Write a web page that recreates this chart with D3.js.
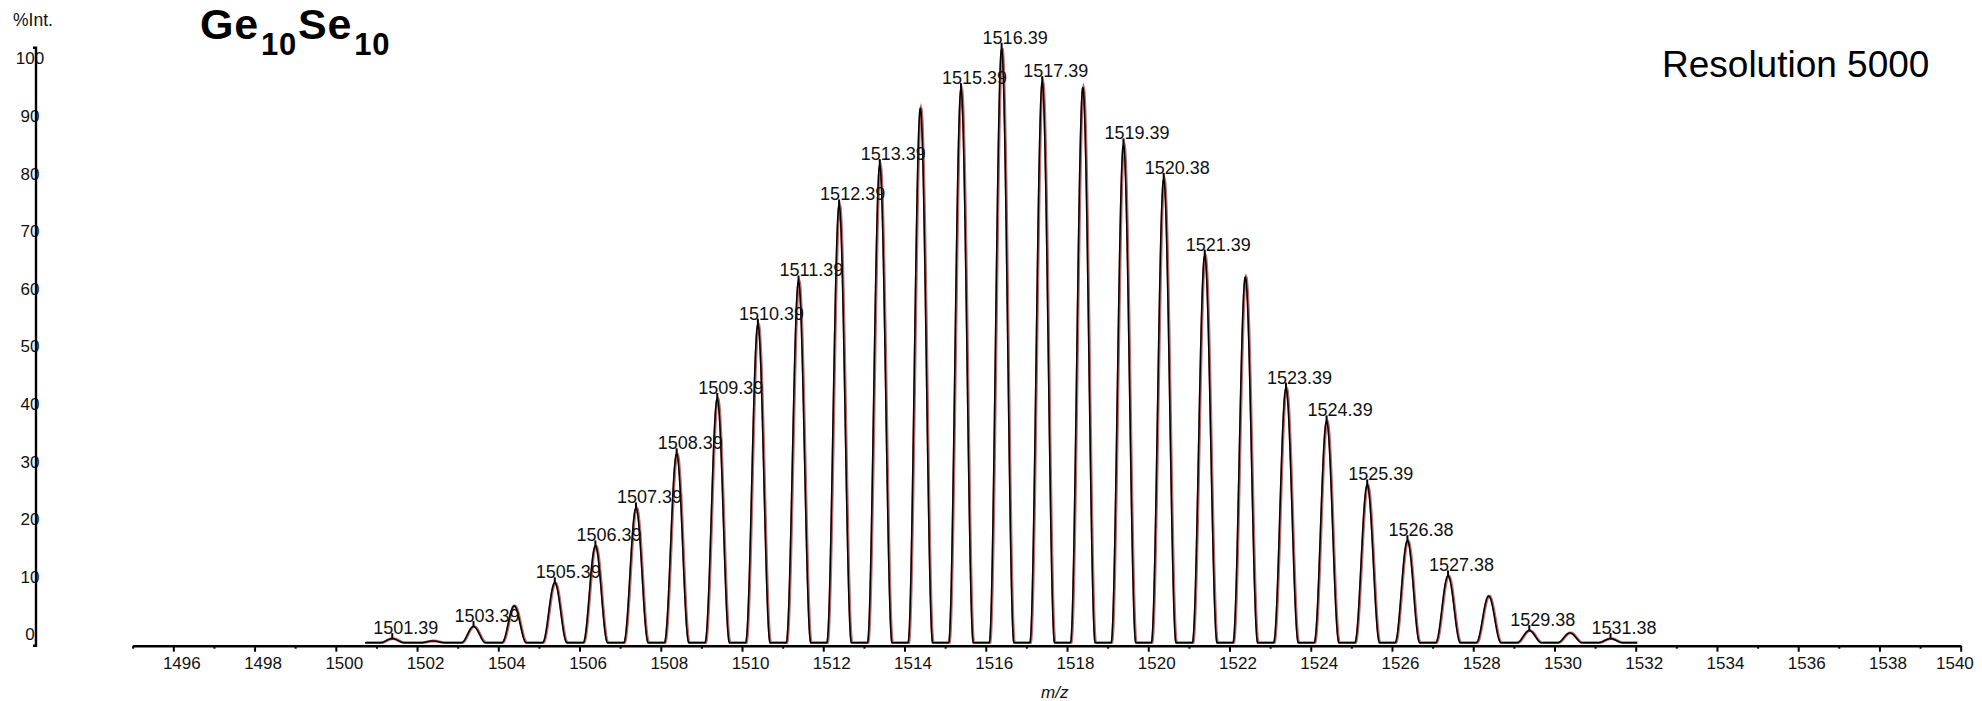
<!DOCTYPE html>
<html><head><meta charset="utf-8">
<script src="https://cdn.jsdelivr.net/npm/d3@7"></script>
<style>
html,body{margin:0;padding:0;background:#fff;}
svg{display:block;font-family:"Liberation Sans",Arial,Helvetica,sans-serif;}
</style></head><body>
<svg id="chart" width="1982" height="701"></svg>
<script>
// ---- data ----
const peakMz  = [1501.39,1502.39,1503.39,1504.39,1505.39,1506.39,1507.39,1508.39,1509.39,1510.39,
                 1511.39,1512.39,1513.39,1514.39,1515.39,1516.39,1517.39,1518.39,1519.39,1520.38,
                 1521.39,1522.39,1523.39,1524.39,1525.39,1526.38,1527.38,1528.38,1529.38,1530.38,1531.38];
const peakInt = [0.7,0.3,2.8,6.4,10.4,16.8,23.4,32.8,42.4,55.3,
                 62.8,76.0,83.0,92.8,96.2,103.2,97.4,96.4,86.6,80.6,
                 67.3,63.5,44.2,38.5,27.4,17.7,11.6,8.1,2.1,1.7,0.7];
const labeledMz = [1501.39,1503.39,1505.39,1506.39,1507.39,1508.39,1509.39,1510.39,1511.39,1512.39,
                   1513.39,1515.39,1516.39,1517.39,1519.39,1520.38,1521.39,1523.39,1524.39,1525.39,
                   1526.38,1527.38,1529.38,1531.38];
const xMajorTicks = [1496,1498,1500,1502,1504,1506,1508,1510,1512,1514,1516,1518,1520,1522,1524,1526,1528,1530,1532,1534,1536,1538,1540];
const xMinorTicks = [1495,1497,1499,1501,1503,1505,1507,1509,1511,1513,1515,1517,1519,1521,1523,1525,1527,1529,1531,1533,1535,1537,1539];
const yTicks = [0,10,20,30,40,50,60,70,80,90,100];
const xDomain = [1495,1540];
const yDomain = [0,100];
const spectrumRange = [1500.72,1532.03];
const resolution = 5000;
const titleMain = ["Ge","Se"];
const titleSub = ["10","10"];
const resolutionText = "Resolution 5000";

// ---- layout ----
const svg = d3.select("#chart");
const x = d3.scaleLinear().domain(xDomain).range([132.7,1960.7]);
const y = d3.scaleLinear().domain(yDomain).range([642.7,66.7]);
const xAxisY = 645.7, yAxisX = 36;

// peak profile (cos^2 line shape, width from resolution)
function profile(mz){
  let s = 0;
  peakMz.forEach((m,i)=>{
    const w = m/resolution, d = mz-m;
    if (Math.abs(d) < w){ const c = Math.cos(Math.PI*d/(2*w)); s += peakInt[i]*c*c; }
  });
  return s;
}
const samples = d3.range(spectrumRange[0], spectrumRange[1], 0.01)
  .concat(peakMz).concat([spectrumRange[1]]).sort((a,b)=>a-b);
const line = d3.line().x(d=>x(d)).y(d=>y(profile(d)));

svg.append("path").datum(samples).attr("d",line)
  .attr("fill","none").attr("stroke","#a33a3a").attr("stroke-width",2.8).attr("stroke-opacity",0.75)
  .attr("transform","translate(0.6,0)");
svg.append("path").datum(samples).attr("d",line)
  .attr("fill","none").attr("stroke","#000").attr("stroke-width",1.5).attr("stroke-linejoin","round");

// x axis
const gx = svg.append("g").attr("transform",`translate(0,${xAxisY})`)
  .call(d3.axisBottom(x).tickValues(xMajorTicks).tickSize(6).tickSizeOuter(0).tickFormat(d3.format("d")));
gx.select(".domain").attr("stroke","#000").attr("stroke-width",2.6);
gx.selectAll(".tick line").attr("stroke","#000").attr("stroke-width",2);
gx.selectAll(".tick text").attr("font-size",17).attr("font-family","Liberation Sans, Arial, sans-serif")
  .attr("fill","#111").attr("y",23.7).attr("dy",0).attr("dx",8);
gx.selectAll(".tick text").filter(d=>d===xDomain[1]).attr("text-anchor","end").attr("dx",12.6);
const gxm = svg.append("g").attr("transform",`translate(0,${xAxisY})`)
  .call(d3.axisBottom(x).tickValues(xMinorTicks).tickSize(3).tickSizeOuter(0).tickFormat(""));
gxm.select(".domain").remove();
gxm.selectAll(".tick line").attr("stroke","#000").attr("stroke-width",2);

svg.append("text").attr("x",(x.range()[0]+x.range()[1])/2+8).attr("y",698)
  .attr("text-anchor","middle").attr("font-size",17).attr("font-style","italic").attr("fill","#111").text("m/z");

// y axis
const gy = svg.append("g").attr("transform",`translate(${yAxisX},0)`)
  .call(d3.axisLeft(y).tickValues(yTicks).tickSize(0).tickPadding(0));
gy.select(".domain").remove();
gy.selectAll(".tick text").attr("font-size",17).attr("font-family","Liberation Sans, Arial, sans-serif")
  .attr("fill","#111").attr("text-anchor","middle").attr("x",-6).attr("dy","-0.16em");
gy.append("path").attr("d",`M-3,${y(-0.52)}H0V${y(103.3)}H-3`).attr("fill","none")
  .attr("stroke","#000").attr("stroke-width",2.4);
svg.append("text").attr("x",13).attr("y",26).attr("font-size",17.5).attr("fill","#111").text("%Int.");

// peak labels
const labeled = peakMz.map((m,i)=>({m, v:peakInt[i]})).filter(p=>labeledMz.includes(p.m));
const gl = svg.append("g");
gl.selectAll("line").data(labeled).join("line")
  .attr("x1",d=>x(d.m)).attr("x2",d=>x(d.m))
  .attr("y1",d=>y(d.v)-5.5).attr("y2",d=>y(d.v))
  .attr("stroke","#000").attr("stroke-width",2);
gl.selectAll("text").data(labeled).join("text")
  .attr("x",d=>x(d.m)-19).attr("y",d=>y(d.v)-4.5)
  .attr("font-size",18).attr("fill","#111").text(d=>d.m.toFixed(2));

// title
const t = svg.append("text").attr("x",200).attr("y",39).attr("font-weight","bold")
  .attr("font-size",43).attr("letter-spacing",0.8).attr("fill","#000");
t.append("tspan").text(titleMain[0]);
t.append("tspan").attr("font-size",31).attr("dx",2).attr("dy",16).text(titleSub[0]);
t.append("tspan").attr("font-size",43).attr("dx",1).attr("dy",-16).text(titleMain[1]);
t.append("tspan").attr("font-size",31).attr("dx",2).attr("dy",16).text(titleSub[1]);

svg.append("text").attr("x",1662).attr("y",76.7).attr("font-size",37).attr("fill","#000").text(resolutionText);
</script>
</body></html>
